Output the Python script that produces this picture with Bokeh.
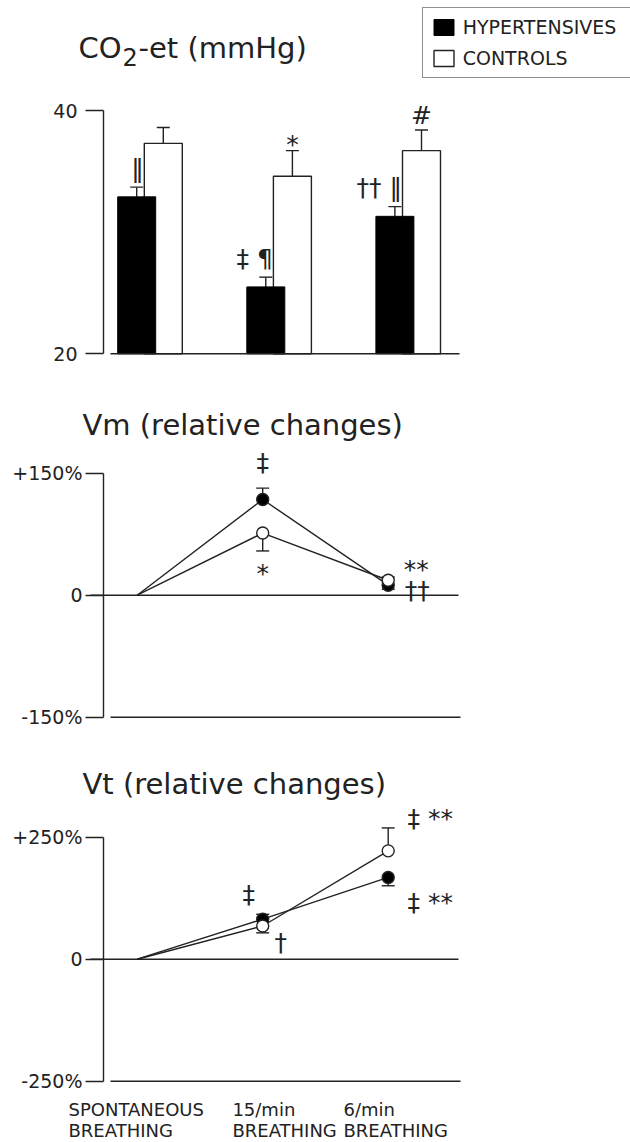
from bokeh.plotting import figure
from bokeh.models import (Range1d, FixedTicker, Whisker, TeeHead, ColumnDataSource,
                          Label, Legend, LegendItem)
from bokeh.layouts import column
from bokeh.embed import file_html
from bokeh.resources import INLINE
from bokeh.core.properties import value

# ---------------- data ----------------
cond_line1 = ["SPONTANEOUS", "15/min", "6/min"]
cond_line2 = ["BREATHING", "BREATHING", "BREATHING"]
series_names = ["HYPERTENSIVES", "CONTROLS"]

# CO2-et (mmHg), three bar groups (spontaneous, 15/min, 6/min)
co2_hyp = [32.9, 25.5, 31.3]
co2_hyp_se = [0.8, 0.8, 0.8]
co2_ctrl = [37.3, 34.6, 36.7]
co2_ctrl_se = [1.3, 2.1, 1.7]
co2_hyp_marks = ["‖", "‡ ¶", "†† ‖"]
co2_ctrl_marks = ["", "*", "#"]
co2_ticks = [20, 40]
co2_tick_labels = ["20", "40"]

# Vm (relative changes, %)
vm_hyp = [0, 117.7, 12.3]
vm_hyp_se = [0, 14, 5]
vm_ctrl = [0, 76.4, 18.4]
vm_ctrl_se = [0, 22, 4]
vm_ticks = [-150, 0, 150]
vm_tick_labels = ["-150%", "0", "+150%"]
vm_notes = ["‡", "*", "**", "††"]
vm_note_series = ["hyp", "ctrl", "ctrl", "hyp"]
vm_note_index = [1, 1, 2, 2]

# Vt (relative changes, %)
vt_hyp = [0, 82, 167.5]
vt_hyp_se = [0, 10, 17]
vt_ctrl = [0, 68, 222]
vt_ctrl_se = [0, 14, 47]
vt_ticks = [-250, 0, 250]
vt_tick_labels = ["-250%", "0", "+250%"]
vt_notes = ["‡", "†", "‡ **", "‡ **"]
vt_note_series = ["hyp", "ctrl", "ctrl", "hyp"]
vt_note_index = [1, 1, 2, 2]

# ---------------- layout / style ----------------
FONT = "DejaVu Sans"
INK = "#222222"
LW = 1.4
FIG_W = 630
AXIS_PX = 103          # page x of the y axes
TICK_FS = "19px"
XLAB_FS = "18px"
TITLE_FS = "29px"
MARK_FS = "25px"


class Panel:
    """Maps page pixels of the reference layout to data coordinates."""
    def __init__(self, top, height, v_hi, px_hi, v_lo, px_lo, x0_px, step_px):
        self.top, self.height = top, height
        self.k = (px_lo - px_hi) / (v_hi - v_lo)
        self.v_hi, self.px_hi = v_hi, px_hi
        self.x0, self.step = x0_px, step_px

    def X(self, px):
        return (px - self.x0) / self.step

    def Y(self, py):
        return self.v_hi + (self.px_hi - py) / self.k


P1 = Panel(0, 390, 40, 110, 20, 353.3, 149.5, 129.1)
P2 = Panel(390, 365, 150, 472.7, -150, 716.7, 136.7, 125.5)
P3 = Panel(755, 387, 250, 836.7, -250, 1080.7, 136.7, 125.5)


def make_fig(pan, ticks, labels, standoff):
    p = figure(width=FIG_W, height=pan.height,
               x_range=Range1d(pan.X(0), pan.X(FIG_W)),
               y_range=Range1d(pan.Y(pan.top + pan.height), pan.Y(pan.top)),
               output_backend="svg", toolbar_location=None, x_axis_location=None,
               min_border_left=0, min_border_right=0,
               min_border_top=0, min_border_bottom=0)
    p.outline_line_color = None
    p.grid.visible = False
    p.background_fill_color = "white"
    p.border_fill_color = "white"
    ax = p.yaxis[0]
    ax.fixed_location = pan.X(AXIS_PX)
    ax.bounds = (min(ticks), max(ticks))
    ax.ticker = FixedTicker(ticks=ticks, minor_ticks=[])
    ax.major_label_overrides = {t: l for t, l in zip(ticks, labels)}
    ax.axis_line_color = INK
    ax.axis_line_width = LW
    ax.major_tick_line_color = INK
    ax.major_tick_line_width = LW
    ax.major_tick_out = 18
    ax.major_tick_in = 0
    ax.minor_tick_line_color = None
    ax.major_label_standoff = standoff
    ax.major_label_text_font = FONT
    ax.major_label_text_font_size = TICK_FS
    ax.major_label_text_color = INK
    return p


def title(p, pan, text, px, py, size=TITLE_FS):
    p.add_layout(Label(x=pan.X(px), y=pan.Y(py), text=text, text_font=FONT,
                       text_font_size=size, text_color=INK,
                       text_baseline="middle", text_align="left"))


def whiskers(p, xs, vals, ses, dirs):
    up = dict(x=[], lo=[], hi=[])
    dn = dict(x=[], lo=[], hi=[])
    for x, v, s, d in zip(xs, vals, ses, dirs):
        if s <= 0:
            continue
        if d > 0:
            up["x"].append(x); up["lo"].append(v); up["hi"].append(v + s)
        else:
            dn["x"].append(x); dn["lo"].append(v - s); dn["hi"].append(v)
    for data, is_up in ((up, True), (dn, False)):
        if not data["x"]:
            continue
        head = TeeHead(size=13, line_color=INK, line_width=LW)
        w = Whisker(base="x", lower="lo", upper="hi", source=ColumnDataSource(data),
                    line_color=INK, line_width=LW, level="underlay",
                    upper_head=head if is_up else None,
                    lower_head=None if is_up else head)
        p.add_layout(w)


# ---------------- panel 1: CO2-et bars ----------------
p1 = make_fig(P1, co2_ticks, co2_tick_labels, 8)
groups = list(range(len(co2_hyp)))
BAR_OFF = 13.3 / P1.step
BAR_W = 38 / P1.step
hyp_x = [g - BAR_OFF for g in groups]
ctrl_x = [g + BAR_OFF for g in groups]
base = co2_ticks[0]

r_ctrl = p1.vbar(x=ctrl_x, top=co2_ctrl, bottom=base, width=BAR_W,
                 fill_color="white", line_color=INK, line_width=LW)
r_hyp = p1.vbar(x=hyp_x, top=co2_hyp, bottom=base, width=BAR_W,
                fill_color="black", line_color="black", line_width=1)
whiskers(p1, ctrl_x, co2_ctrl, co2_ctrl_se, [1, 1, 1])
whiskers(p1, hyp_x, co2_hyp, co2_hyp_se, [1, 1, 1])
p1.segment(x0=[P1.X(110)], y0=[base], x1=[P1.X(459)], y1=[base],
           line_color=INK, line_width=LW)

CTRL_MARK_DY = [0, -6, -14]
p1.text(x=hyp_x, y=[v + s for v, s in zip(co2_hyp, co2_hyp_se)], text=co2_hyp_marks,
        text_font=value(FONT), text_font_size=value(MARK_FS), text_color=INK,
        text_align="right", text_baseline="middle", x_offset=7, y_offset=-19)
p1.text(x=ctrl_x, y=[v + s for v, s in zip(co2_ctrl, co2_ctrl_se)], text=co2_ctrl_marks,
        text_font=value(FONT), text_font_size=value(MARK_FS), text_color=INK,
        text_align="center", text_baseline="middle", x_offset=0, y_offset=CTRL_MARK_DY)

legend = Legend(items=[LegendItem(label=series_names[0], renderers=[r_hyp]),
                       LegendItem(label=series_names[1], renderers=[r_ctrl])],
                location=(421.7, P1.top + P1.height - 78.3),
                border_line_color=INK, border_line_width=1.6,
                background_fill_color="white", background_fill_alpha=1.0,
                padding=8, spacing=9, margin=0, glyph_width=25, glyph_height=20,
                label_standoff=7, label_width=190, label_height=20,
                label_text_font=FONT, label_text_font_size=TICK_FS,
                label_text_color=INK)
p1.add_layout(legend)

title(p1, P1, "CO", 78, 47.5)
title(p1, P1, "2", 122, 56, size="24px")
title(p1, P1, "-et (mmHg)", 138, 47.5)


# ---------------- line panels ----------------
def line_panel(pan, hyp, hyp_se, ctrl, ctrl_se, ticks, labels, notes, note_series,
               note_index, note_dx, note_dy, ttl, center_px):
    p = make_fig(pan, ticks, labels, 3)
    xs = list(range(len(hyp)))
    zero = ticks[1]
    low = ticks[0]
    p.segment(x0=[pan.X(90)], y0=[zero], x1=[pan.X(458)], y1=[zero],
              line_color=INK, line_width=LW)
    p.segment(x0=[pan.X(110)], y0=[low], x1=[pan.X(460)], y1=[low],
              line_color=INK, line_width=LW)
    hyp_dir = [1 if h >= c else -1 for h, c in zip(hyp, ctrl)]
    ctrl_dir = [-d for d in hyp_dir]
    whiskers(p, xs, hyp, hyp_se, hyp_dir)
    whiskers(p, xs, ctrl, ctrl_se, ctrl_dir)
    p.line(xs, hyp, line_color=INK, line_width=LW)
    p.line(xs, ctrl, line_color=INK, line_width=LW)
    p.scatter(xs[1:], hyp[1:], size=12, marker="circle", fill_color="black",
              line_color=INK, line_width=LW)
    p.scatter(xs[1:], ctrl[1:], size=12, marker="circle", fill_color="white",
              line_color=INK, line_width=LW)
    ny = [(hyp if s == "hyp" else ctrl)[i] for s, i in zip(note_series, note_index)]
    p.text(x=note_index, y=ny, text=notes, x_offset=note_dx, y_offset=note_dy,
           text_font=value(FONT), text_font_size=value(MARK_FS), text_color=INK,
           text_align="center", text_baseline="middle")
    title(p, pan, ttl, 82, center_px)
    return p


p2 = line_panel(P2, vm_hyp, vm_hyp_se, vm_ctrl, vm_ctrl_se, vm_ticks, vm_tick_labels,
                vm_notes, vm_note_series, vm_note_index,
                [0, 0, 28, 29], [-37, 40, -11, 5], "Vm (relative changes)", 424)
p3 = line_panel(P3, vt_hyp, vt_hyp_se, vt_ctrl, vt_ctrl_se, vt_ticks, vt_tick_labels,
                vt_notes, vt_note_series, vt_note_index,
                [-14, 18, 42, 42], [-25, 16, -32, 25], "Vt (relative changes)", 783)

LABEL_DX = [68 - 136.7, 232 - 262.3, 343 - 387.7]
cx = list(range(len(cond_line1)))
low3 = vt_ticks[0]
p3.text(x=cx, y=[low3] * 3, text=cond_line1, x_offset=LABEL_DX, y_offset=1109 - 1080.7,
        text_font=value(FONT), text_font_size=value(XLAB_FS), text_color=INK,
        text_align="left", text_baseline="middle")
p3.text(x=cx, y=[low3] * 3, text=cond_line2, x_offset=LABEL_DX, y_offset=1130 - 1080.7,
        text_font=value(FONT), text_font_size=value(XLAB_FS), text_color=INK,
        text_align="left", text_baseline="middle")

layout = column(p1, p2, p3, spacing=0)
open("out.html", "w").write(file_html(layout, INLINE))
